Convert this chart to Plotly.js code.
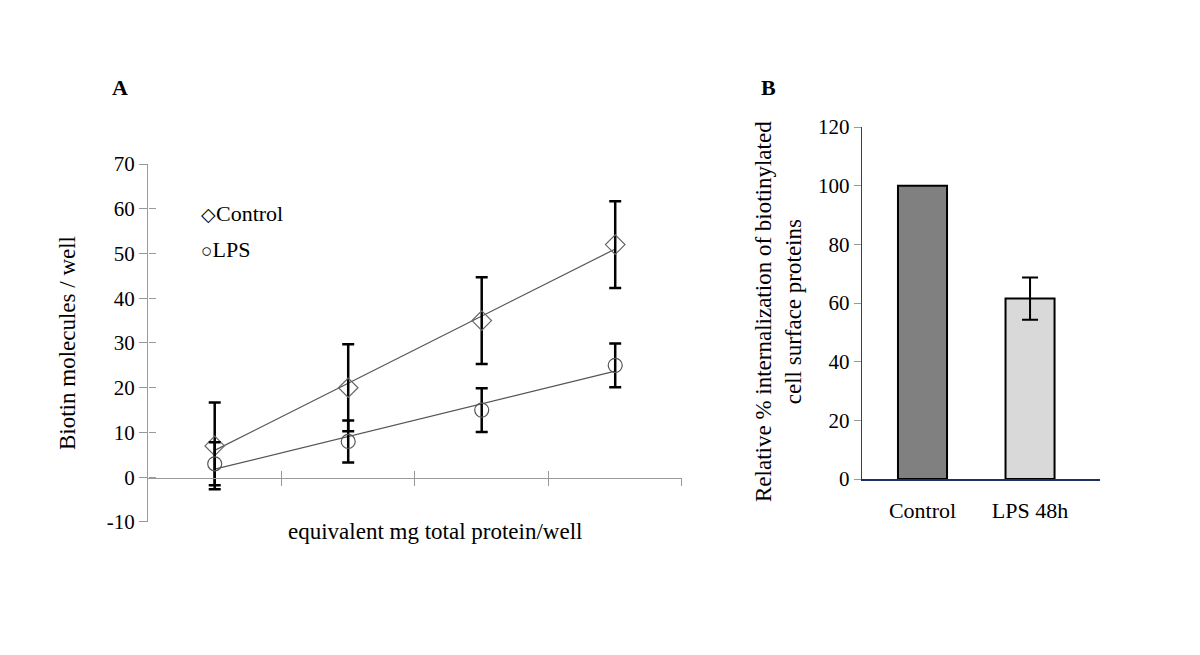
<!DOCTYPE html>
<html>
<head>
<meta charset="utf-8">
<script src="https://cdn.plot.ly/plotly-3.0.1.min.js"></script>
<style>
  html, body { margin: 0; padding: 0; background: #fff; }
  #chart { width: 1200px; height: 655px; }
</style>
</head>
<body>
<div id="chart"></div>
<script>
// Panel A - biotin molecules per well
const doseIndex = [1, 2, 3, 4];
const controlValues = [7, 20, 35, 52];
const controlErrors = [9.7, 9.7, 9.7, 9.7];
const lpsValues = [3, 8, 15, 25];
const lpsErrors = [4.8, 4.7, 4.9, 4.9];
// trendline end points
const trendX = [1, 4];
const controlTrend = [6, 51];
const lpsTrend = [1.8, 23.7];
const xBoundsA = [0.5, 1.5, 2.5, 3.5, 4.5];
const yTicksA = [-10, 0, 10, 20, 30, 40, 50, 60, 70];
const yTickTextA = ['-10', '0', '10', '20', '30', '40', '50', '60', '70'];

// Panel B - relative internalization
const barCategories = ['Control', 'LPS 48h'];
const barValues = [100, 61.5];
const barErrors = [0, 7.2];
const yTicksB = [0, 20, 40, 60, 80, 100, 120];

const serif = 'Liberation Serif, Times New Roman, serif';
const axisGrey = '#999';

const data = [
    {
        x: trendX, y: controlTrend, mode: 'lines', type: 'scatter',
        line: { color: '#555', width: 1.2 },
        xaxis: 'x', yaxis: 'y', showlegend: false, hoverinfo: 'skip'
    },
    {
        x: trendX, y: lpsTrend, mode: 'lines', type: 'scatter',
        line: { color: '#555', width: 1.2 },
        xaxis: 'x', yaxis: 'y', showlegend: false, hoverinfo: 'skip'
    },
    {
        x: doseIndex, y: controlValues, mode: 'markers', type: 'scatter', name: 'Control',
        marker: { symbol: 'diamond-open', size: 15, color: '#666', line: { width: 1.2 } },
        error_y: { type: 'data', array: controlErrors, visible: true, color: '#000', thickness: 2.5, width: 6 },
        xaxis: 'x', yaxis: 'y', showlegend: false
    },
    {
        x: doseIndex, y: lpsValues, mode: 'markers', type: 'scatter', name: 'LPS',
        marker: { symbol: 'circle-open', size: 14, color: '#555', line: { width: 1.2 } },
        error_y: { type: 'data', array: lpsErrors, visible: true, color: '#000', thickness: 2.5, width: 6 },
        xaxis: 'x', yaxis: 'y', showlegend: false
    },
    // empty trace so the inside-tick overlay axes of panel A get drawn
    {
        x: [], y: [], type: 'scatter', mode: 'markers',
        xaxis: 'x3', yaxis: 'y3', showlegend: false, hoverinfo: 'skip'
    },
    {
        x: [barCategories[0]], y: [barValues[0]], type: 'bar', width: 0.456,
        marker: { color: '#808080', line: { color: '#000', width: 2 } },
        xaxis: 'x2', yaxis: 'y2', showlegend: false
    },
    {
        x: [barCategories[1]], y: [barValues[1]], type: 'bar', width: 0.456,
        marker: { color: '#d9d9d9', line: { color: '#000', width: 2 } },
        error_y: { type: 'data', array: [barErrors[1]], visible: true, color: '#000', thickness: 2, width: 8 },
        xaxis: 'x2', yaxis: 'y2', showlegend: false
    }
];

const layout = {
    width: 1200, height: 655,
    margin: { l: 0, r: 0, t: 0, b: 0 },
    paper_bgcolor: '#fff', plot_bgcolor: 'rgba(0,0,0,0)',
    font: { family: serif, size: 21, color: '#000' },
    showlegend: false,
    barmode: 'overlay',
    // panel A axes (ticks cross the axis lines, so an inside-tick copy overlays each)
    xaxis: {
        domain: [0.1233, 0.5683], range: [0.5, 4.5],
        tickvals: xBoundsA, showticklabels: false,
        ticks: 'outside', ticklen: 7, tickcolor: axisGrey,
        showline: true, linecolor: axisGrey, linewidth: 1,
        showgrid: false, zeroline: false,
        anchor: 'free', position: 0.2702
    },
    xaxis3: {
        domain: [0.1233, 0.5683], range: [0.5, 4.5], overlaying: 'x',
        tickvals: xBoundsA, showticklabels: false,
        ticks: 'inside', ticklen: 7, tickcolor: axisGrey,
        showline: false, showgrid: false, zeroline: false,
        anchor: 'free', position: 0.2702
    },
    yaxis: {
        domain: [0.2031, 0.7496], range: [-10, 70],
        tickvals: yTicksA, ticktext: yTickTextA,
        ticks: 'outside', ticklen: 8, tickcolor: axisGrey,
        showline: true, linecolor: axisGrey, linewidth: 1,
        showgrid: false, zeroline: false,
        tickfont: { family: serif, size: 21 }
    },
    yaxis3: {
        domain: [0.2031, 0.7496], range: [-10, 70], overlaying: 'y',
        anchor: 'free', position: 0.1233,
        tickvals: yTicksA, showticklabels: false,
        ticks: 'inside', ticklen: 7, tickcolor: axisGrey,
        showline: false, showgrid: false, zeroline: false
    },
    // panel B axes
    xaxis2: {
        domain: [0.7183, 0.9167], range: [-0.563, 1.651],
        type: 'category', ticks: '',
        showline: true, linecolor: '#1f2f5f', linewidth: 1.5,
        showgrid: false, zeroline: false, anchor: 'y2',
        tickfont: { family: serif, size: 22 }, ticklabelstandoff: 11
    },
    yaxis2: {
        domain: [0.2687, 0.8061], range: [0, 120],
        tickvals: yTicksB,
        ticks: 'outside', ticklen: 7, tickcolor: axisGrey,
        showline: true, linecolor: '#404040', linewidth: 1.3,
        showgrid: false, zeroline: false, anchor: 'x2',
        tickfont: { family: serif, size: 21 }
    },
    annotations: [
        { text: '<b>A</b>', x: 120 / 1200, y: 1 - 87 / 655, xref: 'paper', yref: 'paper',
          xanchor: 'center', yanchor: 'middle', showarrow: false, font: { size: 22 } },
        { text: '<b>B</b>', x: 768 / 1200, y: 1 - 87 / 655, xref: 'paper', yref: 'paper',
          xanchor: 'center', yanchor: 'middle', showarrow: false, font: { size: 22 } },
        { text: 'Biotin molecules / well', textangle: -90, x: 67 / 1200, y: 1 - 343 / 655,
          xref: 'paper', yref: 'paper', xanchor: 'center', yanchor: 'middle', showarrow: false,
          font: { size: 23 } },
        { text: 'equivalent mg total protein/well', x: 435 / 1200, y: 1 - 531 / 655,
          xref: 'paper', yref: 'paper', xanchor: 'center', yanchor: 'middle', showarrow: false,
          font: { size: 23 } },
        { text: '<span style="font-size:19px">◇</span>Control', x: 199 / 1200, y: 1 - 213 / 655,
          xref: 'paper', yref: 'paper', xanchor: 'left', yanchor: 'middle', showarrow: false,
          font: { size: 22 } },
        { text: '<span style="font-size:19px">○</span>LPS', x: 199 / 1200, y: 1 - 249 / 655,
          xref: 'paper', yref: 'paper', xanchor: 'left', yanchor: 'middle', showarrow: false,
          font: { size: 22 } },
        { text: 'Relative % internalization of biotinylated<br>cell surface proteins', textangle: -90,
          x: 778 / 1200, y: 1 - 312 / 655, xref: 'paper', yref: 'paper',
          xanchor: 'center', yanchor: 'middle', showarrow: false, font: { size: 23 } }
    ]
};

Plotly.newPlot('chart', data, layout, { displayModeBar: false, responsive: false });
</script>
</body>
</html>
